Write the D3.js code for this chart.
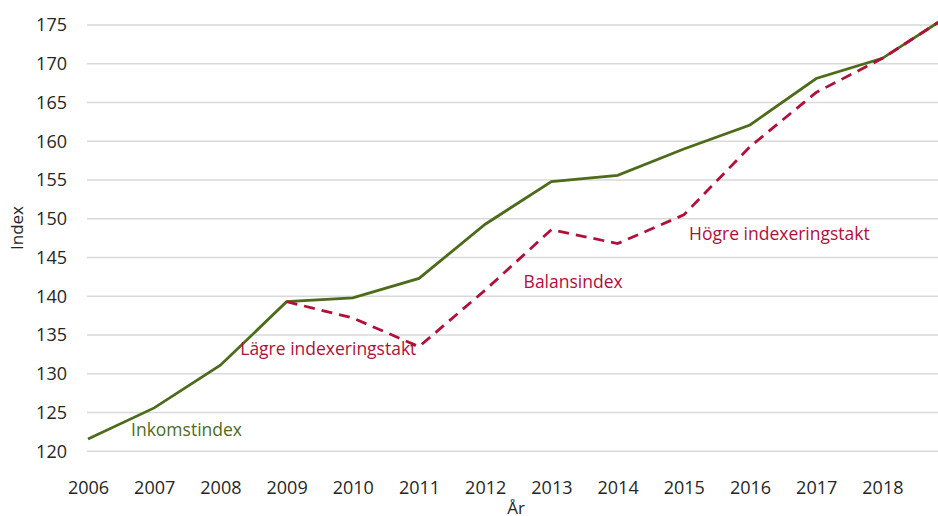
<!DOCTYPE html>
<html>
<head>
<meta charset="utf-8">
<script src="https://cdn.jsdelivr.net/npm/d3@7"></script>
<style>
    body { margin: 0; background: #fff; }
    text { font-family: "Open Sans", sans-serif; }
</style>
</head>
<body>
<div id="chart"></div>
<script>
const years = [2006, 2007, 2008, 2009, 2010, 2011, 2012, 2013, 2014, 2015, 2016, 2017, 2018, 2019];
const inkomstindex = [121.6, 125.6, 131.1, 139.3, 139.8, 142.3, 149.3, 154.8, 155.6, 159.0, 162.1, 168.1, 170.7, 176.2];
const balansYears = [2009, 2010, 2011, 2012, 2013, 2014, 2015, 2016, 2017, 2018, 2019];
const balansindex = [139.3, 137.2, 133.5, 140.8, 148.6, 146.8, 150.5, 159.3, 166.3, 170.7, 176.2];
const xTicks = [2006, 2007, 2008, 2009, 2010, 2011, 2012, 2013, 2014, 2015, 2016, 2017, 2018];
const yTicks = [120, 125, 130, 135, 140, 145, 150, 155, 160, 165, 170, 175];

const labels = [
    { text: 'Inkomstindex', year: 2006.65, value: 122.0, color: '#4e6b1c' },
    { text: 'Lägre indexeringstakt', year: 2008.3, value: 132.4, color: '#b0103a' },
    { text: 'Balansindex', year: 2012.58, value: 141.1, color: '#b0103a' },
    { text: 'Högre indexeringstakt', year: 2015.08, value: 147.3, color: '#b0103a' }
];

const width = 938;
const height = 516;
const margin = { top: 25, right: 0, bottom: 65, left: 88 };

const xScale = d3.scaleLinear()
    .domain([2006, 2019])
    .range([margin.left, margin.left + 13 * 66.2]);

const yScale = d3.scaleLinear()
    .domain([120, 175])
    .range([451.3, 25]);

const svg = d3.select('#chart')
    .append('svg')
    .attr('width', width)
    .attr('height', height);

svg.append('defs').append('clipPath')
    .attr('id', 'plot')
    .append('rect')
    .attr('x', 0)
    .attr('y', 0)
    .attr('width', width)
    .attr('height', height);

// gridlines
svg.append('g')
    .selectAll('line')
    .data(yTicks)
    .enter().append('line')
    .attr('x1', margin.left - 1)
    .attr('x2', width)
    .attr('y1', d => yScale(d))
    .attr('y2', d => yScale(d))
    .style('stroke', '#d9d9d9')
    .style('stroke-width', 1.5);

const yAxis = svg.append('g')
    .attr('transform', `translate(${margin.left - 21},0)`)
    .call(d3.axisLeft(yScale).tickValues(yTicks).tickSize(0).tickPadding(0));
yAxis.select('.domain').remove();
yAxis.selectAll('text')
    .style('font-size', '18px')
    .style('fill', '#262626');

const xAxis = svg.append('g')
    .attr('transform', 'translate(0,481)')
    .call(d3.axisBottom(xScale).tickValues(xTicks).tickFormat(d3.format('d')).tickSize(0).tickPadding(0));
xAxis.select('.domain').remove();
xAxis.selectAll('text')
    .style('font-size', '18px')
    .style('fill', '#262626');

svg.append('text')
    .attr('x', 516)
    .attr('y', 514)
    .attr('text-anchor', 'middle')
    .style('font-size', '17px')
    .style('fill', '#262626')
    .text('År');

svg.append('text')
    .attr('transform', 'translate(23,228) rotate(-90)')
    .attr('text-anchor', 'middle')
    .style('font-size', '17px')
    .style('fill', '#262626')
    .text('Index');

const line = d3.line()
    .x(d => xScale(d[0]))
    .y(d => yScale(d[1]));

const plot = svg.append('g').attr('clip-path', 'url(#plot)');

plot.append('path')
    .datum(years.map((y, i) => [y, inkomstindex[i]]))
    .attr('d', line)
    .style('fill', 'none')
    .style('stroke', '#4e6b1c')
    .style('stroke-width', 2.8);

plot.append('path')
    .datum(balansYears.map((y, i) => [y, balansindex[i]]))
    .attr('d', line)
    .style('fill', 'none')
    .style('stroke', '#b0103a')
    .style('stroke-width', 2.8)
    .style('stroke-dasharray', '11,7');

svg.append('g')
    .selectAll('text')
    .data(labels)
    .enter().append('text')
    .attr('x', d => xScale(d.year))
    .attr('y', d => yScale(d.value))
    .style('font-size', '17.5px')
    .style('fill', d => d.color)
    .text(d => d.text);
</script>
</body>
</html>
